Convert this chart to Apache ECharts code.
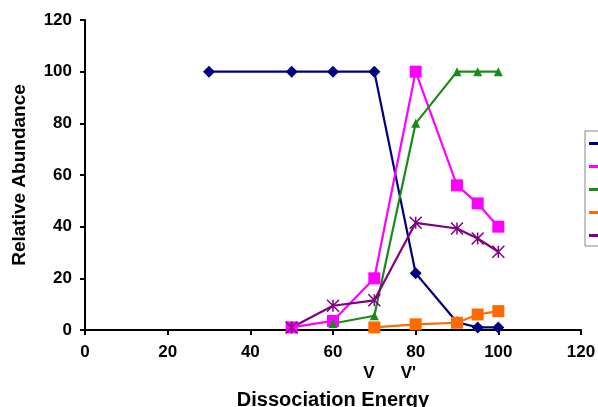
<!DOCTYPE html>
<html><head><meta charset="utf-8">
<script src="https://cdn.jsdelivr.net/npm/echarts@6/dist/echarts.min.js"></script>
<style>html,body{margin:0;padding:0;background:#fff}#c{width:598px;height:407px}</style>
</head><body><div id="c"></div>
<script>
const xTicks = [0, 20, 40, 60, 80, 100, 120];
const yTicks = [0, 20, 40, 60, 80, 100, 120];
const s1 = [[30,100],[50,100],[60,100],[70,100],[80,22],[90,3],[95,1],[100,1]];
const s2 = [[50,1],[60,3.5],[70,20],[80,100],[90,56],[95,49],[100,40]];
const s3 = [[60,2.5],[70,5.5],[80,80],[90,100],[95,100],[100,100]];
const s4 = [[70,1],[80,2.2],[90,2.8],[95,6],[100,7.3]];
const s5 = [[50,1],[60,9.4],[70,11.5],[80,41.5],[90,39.3],[95,35.4],[100,30.3]];
const names = ['s1','s2','s3','s4','s5'];
const colors = ['#000080','#ff00ff','#1a8a1a','#ff6a00','#800080'];
const vMarks = [['V',70,-11],["V'",80,-15]];

const star = 'path://M0,0L10,10M10,0L0,10M5,0L5,10';
const chart = echarts.init(document.getElementById('c'));
const font = '"Liberation Sans", Arial, sans-serif';
function ser(i, data, symbol, size, extra) {
  const color = colors[i];
  return Object.assign({
    name: names[i], type: 'line', data, symbol, symbolSize: size,
    lineStyle: {color, width: 2.2}, itemStyle: {color},
    animation: false
  }, extra || {});
}
chart.setOption({
  animation: false,
  grid: {left: 85, right: 17, top: 20, bottom: 77, outerBoundsMode: 'none', containLabel: false},
  xAxis: {
    type: 'value', min: 0, max: 120, interval: 20,
    name: 'Dissociation Energy', nameLocation: 'middle', nameGap: 60,
    nameTextStyle: {fontFamily: font, fontWeight: 'bold', fontSize: 20, color: '#000'},
    axisLine: {lineStyle: {color: '#000', width: 2}},
    axisTick: {lineStyle: {color: '#000', width: 2}, length: 5},
    axisLabel: {fontFamily: font, fontWeight: 'bold', fontSize: 17, color: '#000', margin: 14},
    splitLine: {show: false}
  },
  yAxis: {
    type: 'value', min: 0, max: 120, interval: 20,
    name: 'Relative Abundance', nameLocation: 'middle', nameGap: 56,
    nameTextStyle: {fontFamily: font, fontWeight: 'bold', fontSize: 19, color: '#000'},
    axisLine: {show: true, lineStyle: {color: '#000', width: 2}},
    axisTick: {show: true, lineStyle: {color: '#000', width: 2}, length: 5},
    axisLabel: {fontFamily: font, fontWeight: 'bold', fontSize: 17, color: '#000', margin: 13},
    splitLine: {show: false}
  },
  legend: {
    orient: 'vertical', left: 585, top: 131,
    padding: [11, 10, 9, 4], itemGap: 20, itemWidth: 12, itemHeight: 3,
    borderColor: '#888', borderWidth: 1,
    formatter: () => '', textStyle: {fontSize: 3},
    data: names.map((n, i) => ({name: n, icon: 'rect', itemStyle: {color: colors[i], borderWidth: 0}}))
  },
  series: [
    ser(0, s1, 'diamond', 12),
    ser(1, s2, 'rect', 12),
    ser(2, s3, 'triangle', 9),
    ser(3, s4, 'rect', 12),
    ser(4, s5, star, 12, {itemStyle: {color: 'none', borderColor: colors[4], borderWidth: 1.5}})
  ]
});
const g = vMarks.map(([t, v, dx]) => {
  const p = chart.convertToPixel({gridIndex: 0}, [v, 0]);
  return {type: 'text', left: p[0] + dx, top: 365,
    style: {text: t, font: 'bold 17px ' + font, fill: '#000'}};
});
chart.setOption({graphic: g});
</script></body></html>
